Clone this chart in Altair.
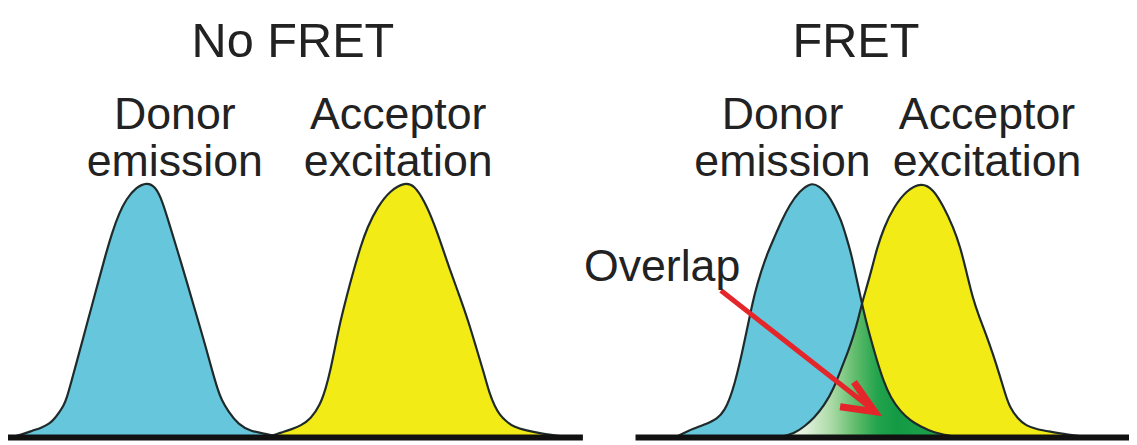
import altair as alt
import pandas as pd

# ---- curve outlines (x across the figure, height above baseline) ----
donor_nofret_x = [10, 22, 33, 42, 50, 55, 60, 64, 67, 72, 78, 85, 92, 99, 106, 113, 120, 127, 137, 148,
                  156, 163, 172, 180, 188, 195, 202, 208, 214, 219, 223, 230, 240, 253, 267, 282]
donor_nofret_h = [0, 3, 7, 10, 14, 19, 26, 32, 39, 57, 79, 105, 131, 157, 183, 207, 226, 240, 252, 257,
                  253, 240, 210, 184, 157, 133, 109, 88, 66, 49, 38, 26, 13, 6, 4, 0]

acceptor_nofret_x = [268, 283, 293, 303, 313, 322, 328, 333, 338, 343, 349, 356, 363, 370, 380, 393, 408,
                     417, 427, 437, 445, 453, 463, 472, 480, 487, 493, 498, 503, 510, 517, 530, 545, 560, 575]
acceptor_nofret_h = [0, 5, 8, 12, 19, 32, 49, 69, 94, 118, 142, 168, 192, 212, 232, 249, 257,
                     254, 239, 216, 193, 169, 142, 116, 89, 66, 44, 32, 23, 16, 11, 7, 4, 2, 0]

donor_fret_x = [680, 693, 710, 723, 730, 735, 740, 745, 750, 755, 760, 766, 773, 780, 787, 795, 805, 817,
                825, 833, 840, 847, 852, 857, 862, 868, 872, 877, 883, 890, 897, 907, 917, 927, 940, 955, 965]
donor_fret_h = [0, 7, 13, 19, 28, 39, 55, 75, 98, 122, 145, 166, 186, 202, 218, 234, 248, 257,
                253, 246, 234, 219, 203, 186, 163, 135, 118, 99, 78, 56, 40, 26, 17, 11, 5, 2, 0]

acceptor_fret_x = [785, 800, 810, 820, 830, 840, 847, 854, 860, 864, 868, 873, 878, 883, 890, 900, 913, 928,
                   940, 950, 960, 967, 973, 980, 986, 993, 1000, 1007, 1012, 1017, 1025, 1033, 1045, 1057, 1080, 1100]
acceptor_fret_h = [0, 4, 11, 20, 32, 50, 69, 86, 104, 118, 135, 152, 170, 190, 211, 232, 249, 257,
                   250, 233, 212, 192, 168, 139, 122, 104, 84, 62, 45, 30, 19, 12, 8, 6, 2, 0]

crossing_x = 868  # where the two FRET curves meet

# ---- text ----
titles = ["No FRET", "FRET"]
title_x = [295, 862]
title_h = [383, 383]

labels = ["Donor", "emission", "Acceptor", "excitation", "Donor", "emission", "Acceptor", "excitation"]
label_x = [176, 176, 401, 401, 788, 788, 994, 994]
label_h = [311, 263, 311, 263, 311, 263, 311, 263]

overlap_label = ["Overlap"]
overlap_x = [588]
overlap_h = [158]

# ---- arrow and baselines ----
shaft_x = [726, 874]
shaft_h = [148, 32]
head_x = [860, 881, 846]
head_h = [56, 26, 31]

base_x1 = [8, 640]
base_x2 = [587, 1137]
base_h = [0, 0]

BLUE = "#66c6dc"
YELLOW = "#f3eb16"
OUTLINE = "#1f2a2a"
RED = "#e4262b"
FONT = "Liberation Sans"

W, H = 1129, 437
xs = alt.Scale(domain=[8, 1137], range=[0, W], nice=False, zero=False)
ys = alt.Scale(domain=[-6, 431], nice=False, zero=False)
X = lambda f: alt.X(f, scale=xs, axis=None)
Y = lambda f: alt.Y(f, scale=ys, axis=None)


def curve(xv, hv):
    return pd.DataFrame({"x": xv, "h": hv})


d1 = curve(donor_nofret_x, donor_nofret_h)
a1 = curve(acceptor_nofret_x, acceptor_nofret_h)
d2 = curve(donor_fret_x, donor_fret_h)
a2 = curve(acceptor_fret_x, acceptor_fret_h)
ov = pd.concat([a2[a2.x <= crossing_x], d2[d2.x > crossing_x]], ignore_index=True)

SMOOTH = "basis"

layers = []
for df, col in [(d1, BLUE), (a1, YELLOW), (d2, BLUE), (a2, YELLOW)]:
    layers.append(
        alt.Chart(df).mark_area(color=col, interpolate=SMOOTH, opacity=1)
        .encode(x=X("x:Q"), y=Y("h:Q"), y2=alt.datum(0))
    )

green = alt.Gradient(
    gradient="linear",
    stops=[
        alt.GradientStop(color="#f4faf1", offset=0.0),
        alt.GradientStop(color="#e0f0da", offset=0.15),
        alt.GradientStop(color="#a6d8a2", offset=0.3),
        alt.GradientStop(color="#5dbb6a", offset=0.43),
        alt.GradientStop(color="#22a34c", offset=0.55),
        alt.GradientStop(color="#149a44", offset=0.66),
        alt.GradientStop(color="#22a64e", offset=1.0),
    ],
    x1=0, x2=1, y1=0, y2=0,
)
layers.append(
    alt.Chart(ov).mark_area(fill=green, interpolate="linear", opacity=1)
    .encode(x=X("x:Q"), y=Y("h:Q"), y2=alt.datum(0))
)

for df in [d1, a1, d2, a2]:
    layers.append(
        alt.Chart(df).mark_line(color=OUTLINE, strokeWidth=2.2, interpolate=SMOOTH)
        .encode(x=X("x:Q"), y=Y("h:Q"))
    )

base_df = pd.DataFrame({"x1": base_x1, "x2": base_x2, "h": base_h})
layers.append(
    alt.Chart(base_df).mark_rule(color="#111111", strokeWidth=6)
    .encode(x=X("x1:Q"), x2="x2:Q", y=Y("h:Q"))
)

shaft_df = pd.DataFrame({"x": shaft_x, "h": shaft_h, "i": range(len(shaft_x))})
layers.append(
    alt.Chart(shaft_df).mark_line(color=RED, strokeWidth=5, strokeCap="butt")
    .encode(x=X("x:Q"), y=Y("h:Q"), order="i:Q")
)
head_df = pd.DataFrame({"x": head_x, "h": head_h, "i": range(len(head_x))})
layers.append(
    alt.Chart(head_df).mark_line(color=RED, strokeWidth=7, strokeCap="butt", strokeJoin="miter")
    .encode(x=X("x:Q"), y=Y("h:Q"), order="i:Q")
)

title_df = pd.DataFrame({"t": titles, "x": title_x, "h": title_h})
layers.append(
    alt.Chart(title_df).mark_text(font=FONT, fontSize=49, color="#222222", align="center", baseline="alphabetic")
    .encode(x=X("x:Q"), y=Y("h:Q"), text="t:N")
)
label_df = pd.DataFrame({"t": labels, "x": label_x, "h": label_h})
layers.append(
    alt.Chart(label_df).mark_text(font=FONT, fontSize=45, color="#222222", align="center", baseline="alphabetic")
    .encode(x=X("x:Q"), y=Y("h:Q"), text="t:N")
)
ov_df = pd.DataFrame({"t": overlap_label, "x": overlap_x, "h": overlap_h})
layers.append(
    alt.Chart(ov_df).mark_text(font=FONT, fontSize=45, color="#222222", align="left", baseline="alphabetic")
    .encode(x=X("x:Q"), y=Y("h:Q"), text="t:N")
)

chart = (
    alt.layer(*layers)
    .properties(width=W, height=H, autosize=alt.AutoSizeParams(type="none"), padding=0, background="white")
    .configure_view(stroke=None)
)

chart.save("out.html", embed_options={"renderer": "svg", "actions": False})
